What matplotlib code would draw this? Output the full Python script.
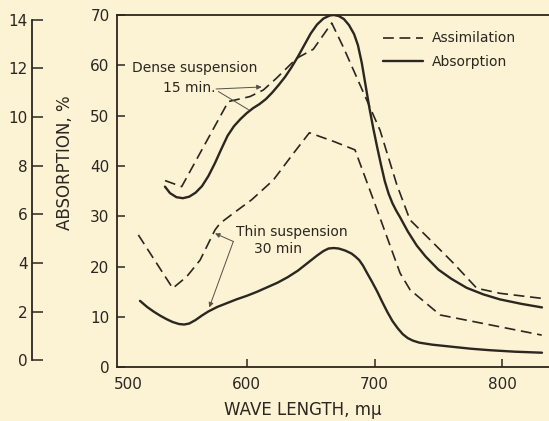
import matplotlib
matplotlib.use("Agg")
import matplotlib.pyplot as plt
from matplotlib.transforms import ScaledTranslation

# ---------------- data ----------------
dense_assim_x = [536.1, 549.1, 585.6, 602.6, 613.0, 623.5, 639.1, 652.1, 666.5, 675.6, 693.9, 704.3, 717.4, 727.7, 746.0, 761.7, 780.0, 798.2, 830.8]
dense_assim_y = [37.1, 35.9, 52.8, 53.8, 55.1, 57.5, 61.4, 63.2, 68.4, 63.6, 53.1, 47.1, 36.3, 29.3, 24.7, 20.7, 15.7, 14.7, 13.7]

dense_abs_x = [536, 540, 545, 550, 555, 560, 565, 570, 575, 580, 585, 590, 595, 600, 605, 610, 615, 620, 625, 630,
               635, 640, 645, 650, 655, 660, 665, 668, 672, 676, 680, 684, 687, 690, 693, 696, 699, 702, 705, 708,
               711, 714, 717, 720, 726, 733, 740, 750, 760, 772, 785, 798, 815, 831]
dense_abs_y = [35.9, 34.6, 33.8, 33.6, 33.9, 34.7, 36.0, 38.0, 40.5, 43.3, 46.0, 47.9, 49.3, 50.5, 51.5, 52.3, 53.3, 54.6, 56.1, 57.7,
               59.6, 61.7, 64.0, 66.3, 68.1, 69.3, 69.9, 70.0, 69.8, 69.2, 68.0, 66.2, 64.0, 60.5, 56.0, 51.5, 47.5, 43.8, 40.3, 37.0,
               34.5, 32.6, 31.1, 29.8, 27.0, 24.2, 22.0, 19.4, 17.6, 15.8, 14.5, 13.5, 12.6, 11.9]

thin_assim_x = [515.2, 542.1, 553.0, 563.5, 571.3, 575.2, 579.1, 589.5, 603.9, 620.8, 636.5, 649.0, 667.8, 684.7, 699.1, 720.0, 727.8, 751.3, 830.8]
thin_assim_y = [26.3, 15.7, 18.0, 21.3, 25.3, 27.3, 28.6, 30.6, 33.3, 37.2, 42.5, 46.6, 44.9, 43.2, 33.3, 18.7, 15.4, 10.4, 6.4]

thin_abs_x = [516.5, 522, 527, 532, 537, 542, 547, 551, 555, 560, 565, 570, 577, 584, 592, 600, 608, 616, 624, 632,
              640, 648, 655, 660, 664, 668, 672, 677, 682, 685, 688, 691, 694, 698, 702, 706, 710, 714, 718, 722,
              726, 730, 735, 745, 760, 775, 790, 810, 831]
thin_abs_y = [13.2, 12.0, 11.1, 10.3, 9.6, 9.0, 8.6, 8.5, 8.7, 9.4, 10.3, 11.1, 12.0, 12.7, 13.5, 14.2, 15.0, 15.9, 16.8, 17.9,
              19.2, 20.8, 22.2, 23.1, 23.6, 23.7, 23.6, 23.2, 22.6, 22.0, 21.3, 20.2, 18.8, 17.0, 15.1, 13.0, 11.0, 9.2, 7.8, 6.6,
              5.8, 5.3, 4.9, 4.5, 4.1, 3.7, 3.4, 3.1, 2.9]

x_ticks = [500, 600, 700, 800]
y_ticks = [0, 10, 20, 30, 40, 50, 60, 70]
outer_ticks = [0, 2, 4, 6, 8, 10, 12, 14]
legend_labels = ["Assimilation", "Absorption"]

# ---------------- style ----------------
BG = "#fcf2d4"
INK = "#2b2620"
W, H = 549, 421
plt.rcParams['font.family'] = ['DejaVu Sans']

fig = plt.figure(figsize=(W / 100, H / 100), dpi=100, facecolor=BG)

def fbox(l, t, r, b):
    return [l / W, 1 - b / H, (r - l) / W, (b - t) / H]

ax = fig.add_axes(fbox(116.5, 15, 549, 367.3))
ax.set_facecolor("none")
ax.set_xlim(498.1, 836.5)
ax.set_ylim(0, 70)

dash = (6.5, 3.4)
l1, = ax.plot(dense_assim_x, dense_assim_y, color=INK, lw=1.2, dashes=dash)
l2, = ax.plot(dense_abs_x, dense_abs_y, color=INK, lw=1.7, solid_joinstyle='round', solid_capstyle='round')
ax.plot(thin_assim_x, thin_assim_y, color=INK, lw=1.2, dashes=dash)
ax.plot(thin_abs_x, thin_abs_y, color=INK, lw=1.7, solid_joinstyle='round', solid_capstyle='round')

ax.spines["right"].set_visible(False)
for s in ["left", "bottom", "top"]:
    ax.spines[s].set_color(INK)
    ax.spines[s].set_linewidth(1.3)

ax.set_xticks(x_ticks)
ax.set_yticks(y_ticks)
ax.tick_params(direction="in", length=6, width=1.1, colors=INK, labelsize=11, pad=5)
ax.tick_params(axis="x", pad=7)
ax.xaxis.get_major_ticks()[0].tick1line.set_visible(False)
lab0 = ax.get_xticklabels()[0]
lab0.set_transform(lab0.get_transform() + ScaledTranslation(9 / 100, 0, fig.dpi_scale_trans))

# outer scale (0-14)
ax2 = fig.add_axes(fbox(32, 19.6, 33, 360.4))
ax2.set_facecolor("none")
ax2.set_ylim(0, 14)
ax2.set_xticks([])
ax2.set_yticks(outer_ticks)
for s in ["right", "top", "bottom"]:
    ax2.spines[s].set_visible(False)
ax2.spines["left"].set_color(INK)
ax2.spines["left"].set_linewidth(1.3)
ax2.tick_params(axis="y", direction="in", length=8, width=1.1, colors=INK, labelsize=11, pad=3)

fig.text(65 / W, 1 - 163 / H, "ABSORPTION, %", rotation=90, ha="center", va="center",
         fontsize=12, color=INK)
fig.text(303 / W, 1 - 410 / H, "WAVE LENGTH, m\u03bc", ha="center", va="center",
         fontsize=12, color=INK)

ax.legend([l1, l2], legend_labels, loc="upper left", bbox_to_anchor=(383 / W, 1 - 31.5 / H),
          bbox_transform=fig.transFigure, frameon=False, handlelength=2.9, handletextpad=0.6,
          labelspacing=0.7, borderpad=0, borderaxespad=0, fontsize=10, labelcolor=INK)

arrow_kw = dict(arrowstyle="-|>", color="#555048", lw=0.7, mutation_scale=7, shrinkA=0, shrinkB=0)
plain_kw = dict(arrowstyle="-", color="#555048", lw=0.7, shrinkA=0, shrinkB=0)

ax.text(510.2, 59.4, "Dense suspension", fontsize=10, color=INK, ha="left", va="center")
ax.text(534.5, 55.4, "15 min.", fontsize=10, color=INK, ha="left", va="center")
ax.annotate("", xy=(611.7, 55.7), xytext=(576.0, 55.3), arrowprops=arrow_kw)
ax.annotate("", xy=(601.3, 51.2), xytext=(577.8, 54.8), arrowprops=plain_kw)

ax.text(591.6, 26.9, "Thin suspension", fontsize=10, color=INK, ha="left", va="center")
ax.text(605.7, 23.5, "30 min", fontsize=10, color=INK, ha="left", va="center")
ax.annotate("", xy=(575.2, 26.6), xytext=(589.5, 25.0), arrowprops=arrow_kw)
ax.annotate("", xy=(570.7, 11.9), xytext=(589.5, 25.0), arrowprops=arrow_kw)

fig.savefig("out.png", dpi=100, facecolor=BG)
